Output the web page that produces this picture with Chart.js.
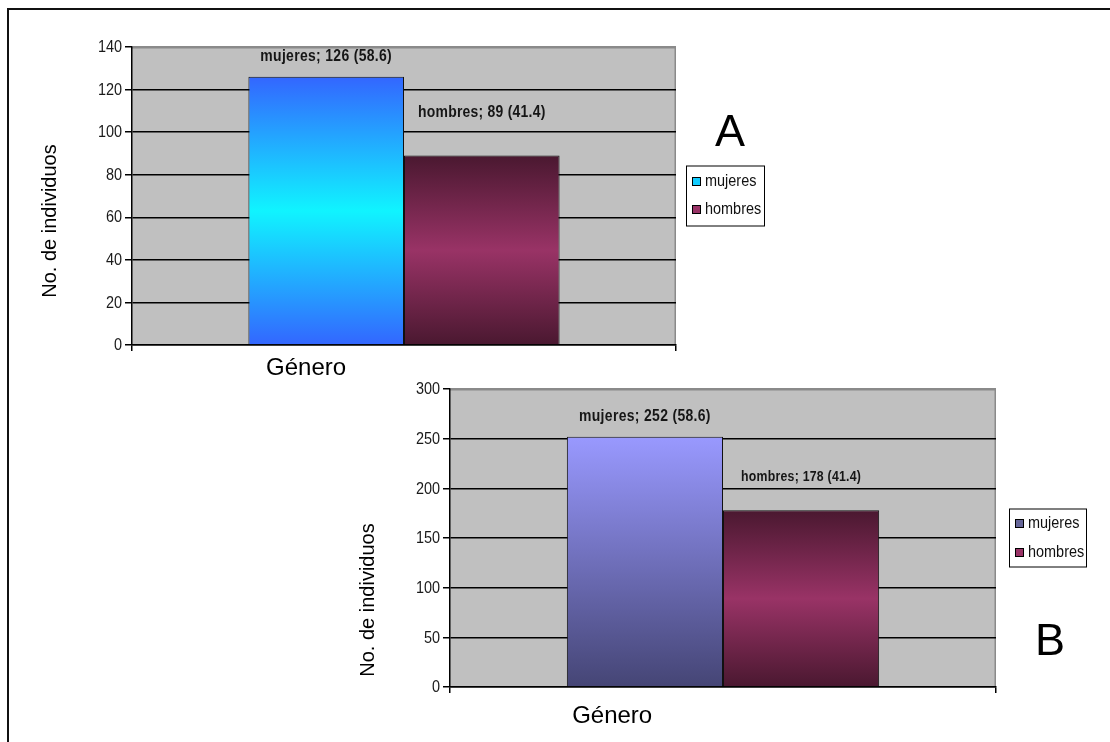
<!DOCTYPE html>
<html lang="es">
<head>
<meta charset="utf-8">
<title>No. de individuos por género</title>
<script src="https://cdn.jsdelivr.net/npm/chart.js@4.4.1/dist/chart.umd.min.js"></script>
<style>
  html, body { margin: 0; padding: 0; background: #fff; }
  body { width: 1110px; height: 742px; position: relative; overflow: hidden; }
  .frame { position: absolute; left: 7px; top: 8px; width: 1200px; height: 900px;
           border-top: 2px solid #111; border-left: 2px solid #111; }
  canvas { position: absolute; left: 0; top: 0; }
</style>
</head>
<body>
<div class="frame"></div>
<canvas id="chartA" width="1110" height="742"></canvas>
<canvas id="chartB" width="1110" height="742"></canvas>
<script>
// Category and series
const categories = ['Género'];
const seriesNames = ['mujeres', 'hombres'];

// Panel A counts
const mujeresA = [126];
const hombresA = [89];
const ticksA = [0, 20, 40, 60, 80, 100, 120, 140];

// Panel B counts
const mujeresB = [252];
const hombresB = [178];
const ticksB = [0, 50, 100, 150, 200, 250, 300];

const yTitle = 'No. de individuos';

const SANS = '"Liberation Sans", Arial, sans-serif';

// Text squeezed horizontally, for the condensed labels
function narrowText(ctx, text, x, y, font, sx, align, spacing) {
  ctx.save();
  ctx.font = font;
  ctx.letterSpacing = (spacing || 0) + 'px';
  ctx.textAlign = align;
  ctx.translate(x, y);
  ctx.scale(sx, 1);
  ctx.fillText(text, 0, 0);
  ctx.restore();
}

// Vertical gradient spanning one bar, from its top to the zero line
function barGradient(stops) {
  return (c) => {
    const chart = c.chart;
    if (!chart.chartArea || c.type !== 'data') return stops[1][1];
    const y = chart.scales.y;
    const top = y.getPixelForValue(c.parsed ? c.parsed.y : c.raw);
    const bottom = y.getPixelForValue(0);
    const g = chart.ctx.createLinearGradient(0, top, 0, bottom);
    stops.forEach(([p, col]) => g.addColorStop(p, col));
    return g;
  };
}

// Grey plot area with its light top and right edges
const plotBackground = {
  id: 'plotBackground',
  beforeDraw(chart) {
    const { ctx, chartArea: a } = chart;
    ctx.save();
    ctx.fillStyle = '#c0c0c0';
    ctx.fillRect(a.left, a.top, a.right - a.left, a.bottom - a.top);
    ctx.strokeStyle = '#8a8a8a';
    ctx.lineWidth = 1.5;
    ctx.beginPath();
    ctx.moveTo(a.left, a.top + 0.75);
    ctx.lineTo(a.right - 0.75, a.top + 0.75);
    ctx.lineTo(a.right - 0.75, a.bottom);
    ctx.stroke();
    ctx.restore();
  }
};

// Value labels above the bars: "serie; n (pct)"
const valueLabels = {
  id: 'valueLabels',
  afterDatasetsDraw(chart, args, opts) {
    const { ctx } = chart;
    const ds = chart.data.datasets;
    const total = ds.reduce((s, d) => s + d.data[0], 0);
    ctx.save();
    ctx.fillStyle = '#161616';
    ctx.textBaseline = 'middle';
    ds.forEach((d, i) => {
      const bar = chart.getDatasetMeta(i).data[0];
      const st = opts.styles[i];
      const v = d.data[0];
      const text = d.label + '; ' + v + ' (' + (v / total * 100).toFixed(1) + ')';
      narrowText(ctx, text, bar.x, bar.y - st.lift, 'bold ' + st.size + 'px ' + SANS, 0.82, 'center', st.spacing);
    });
    ctx.restore();
  }
};

// Tick labels, axis titles, boxed legend and panel letter
const decorations = {
  id: 'decorations',
  afterDraw(chart, args, o) {
    const { ctx, chartArea: a } = chart;
    const ys = chart.scales.y;
    ctx.save();

    // y tick labels
    ctx.fillStyle = '#1a1a1a';
    ctx.textBaseline = 'middle';
    ys.ticks.forEach((t) => {
      narrowText(ctx, String(t.value), a.left - 10, ys.getPixelForValue(t.value) + 0.5, '17px ' + SANS, 0.85, 'right');
    });

    // y title
    ctx.fillStyle = '#000';
    ctx.font = '20px ' + SANS;
    ctx.textAlign = 'center';
    ctx.textBaseline = 'middle';
    ctx.save();
    ctx.translate(a.left - o.yTitleDx, (a.top + a.bottom) / 2 + o.yTitleDy);
    ctx.rotate(-Math.PI / 2);
    ctx.fillText(yTitle, 0, 0);
    ctx.restore();

    // category title
    ctx.font = '24px ' + SANS;
    ctx.textBaseline = 'alphabetic';
    ctx.fillText(categories[0], a.left + (a.right - a.left) * o.catFrac, a.bottom + o.catDy);

    // legend
    const lx = a.right + o.legendGap;
    const lw = o.legendW, lh = o.legendH;
    const ly = (a.top + a.bottom) / 2 - lh / 2;
    ctx.fillStyle = '#fff';
    ctx.fillRect(lx, ly, lw, lh);
    ctx.strokeStyle = '#000';
    ctx.lineWidth = 1;
    ctx.strokeRect(lx + 0.5, ly + 0.5, lw - 1, lh - 1);
    ctx.textBaseline = 'middle';
    chart.data.datasets.forEach((d, i) => {
      const cy = ly + o.rowTop + i * o.rowStep;
      ctx.fillStyle = o.swatches[i];
      ctx.fillRect(lx + 7, cy - 3.5, 7, 7);
      ctx.strokeStyle = '#000';
      ctx.strokeRect(lx + 6.5, cy - 4, 8, 8);
      ctx.fillStyle = '#111';
      narrowText(ctx, d.label, lx + 19, cy, '17px ' + SANS, 0.85, 'left');
    });

    // panel letter
    ctx.fillStyle = '#000';
    ctx.font = '45px ' + SANS;
    ctx.textAlign = 'center';
    ctx.textBaseline = 'alphabetic';
    ctx.fillText(o.letter, lx + lw / 2 + o.letterDx, o.letterAbove ? ly - o.letterGap : ly + lh + o.letterGap);
    ctx.restore();
  }
};

const plum = [[0, '#4a1830'], [0.5, '#993366'], [1, '#4a1830']];

function makeChart(id, cfg) {
  return new Chart(document.getElementById(id), {
    type: 'bar',
    data: {
      labels: categories,
      datasets: [
        { label: seriesNames[0], data: cfg.mujeres, backgroundColor: barGradient(cfg.mujeresStops),
          borderColor: '#111', borderWidth: 1 },
        { label: seriesNames[1], data: cfg.hombres, backgroundColor: barGradient(plum),
          borderColor: '#111', borderWidth: 1 }
      ]
    },
    options: {
      responsive: false,
      animation: false,
      events: [],
      devicePixelRatio: 1,
      layout: { padding: cfg.padding },
      datasets: { bar: { categoryPercentage: 0.572, barPercentage: 1 } },
      scales: {
        x: {
          offset: true,
          ticks: { display: false },
          grid: { offset: true, drawOnChartArea: false, drawTicks: true, tickLength: 6, color: '#000', lineWidth: 1.5 },
          border: { color: '#000', width: 1.5 },
          afterFit: (s) => { s.height = 20; }
        },
        y: {
          min: cfg.ticks[0],
          max: cfg.ticks[cfg.ticks.length - 1],
          ticks: { display: false, stepSize: cfg.ticks[1] - cfg.ticks[0] },
          grid: {
            color: (c) => (c.tick && c.tick.value === cfg.ticks[cfg.ticks.length - 1]) ? '#8a8a8a' : '#000',
            tickColor: '#000', tickLength: 7, lineWidth: 1.5
          },
          border: { color: '#000', width: 1.5 },
          afterFit: (s) => { s.width = cfg.axisWidth; }
        }
      },
      plugins: {
        legend: { display: false },
        tooltip: { enabled: false },
        valueLabels: { styles: cfg.labelStyles },
        decorations: cfg.deco
      }
    },
    plugins: [plotBackground, valueLabels, decorations]
  });
}

makeChart('chartA', {
  mujeres: mujeresA,
  hombres: hombresA,
  ticks: ticksA,
  mujeresStops: [[0, '#3366ff'], [0.5, '#10f4ff'], [1, '#3366ff']],
  axisWidth: 132,
  padding: { left: 0, top: 47, right: 434, bottom: 377 },
  labelStyles: [{ size: 17, spacing: 0.4, lift: 20 }, { size: 17, spacing: 0.3, lift: 43 }],
  deco: {
    yTitleDx: 82, yTitleDy: 25, catFrac: 0.32, catDy: 30,
    legendGap: 10, legendW: 79, legendH: 61, rowTop: 16, rowStep: 28,
    swatches: ['#11ccff', '#993366'],
    letter: 'A', letterDx: 4.5, letterAbove: true, letterGap: 20
  }
});

makeChart('chartB', {
  mujeres: mujeresB,
  hombres: hombresB,
  ticks: ticksB,
  mujeresStops: [[0, '#9999ff'], [1, '#454575']],
  axisWidth: 450,
  padding: { left: 0, top: 389, right: 114, bottom: 35 },
  labelStyles: [{ size: 17, spacing: 0.4, lift: 20 }, { size: 15, spacing: 0.3, lift: 33 }],
  deco: {
    yTitleDx: 82, yTitleDy: 62, catFrac: 0.297, catDy: 36,
    legendGap: 13, legendW: 78, legendH: 59, rowTop: 15, rowStep: 29,
    swatches: ['#666699', '#993366'],
    letter: 'B', letterDx: 2, letterAbove: false, letterGap: 87
  }
});
</script>
</body>
</html>
